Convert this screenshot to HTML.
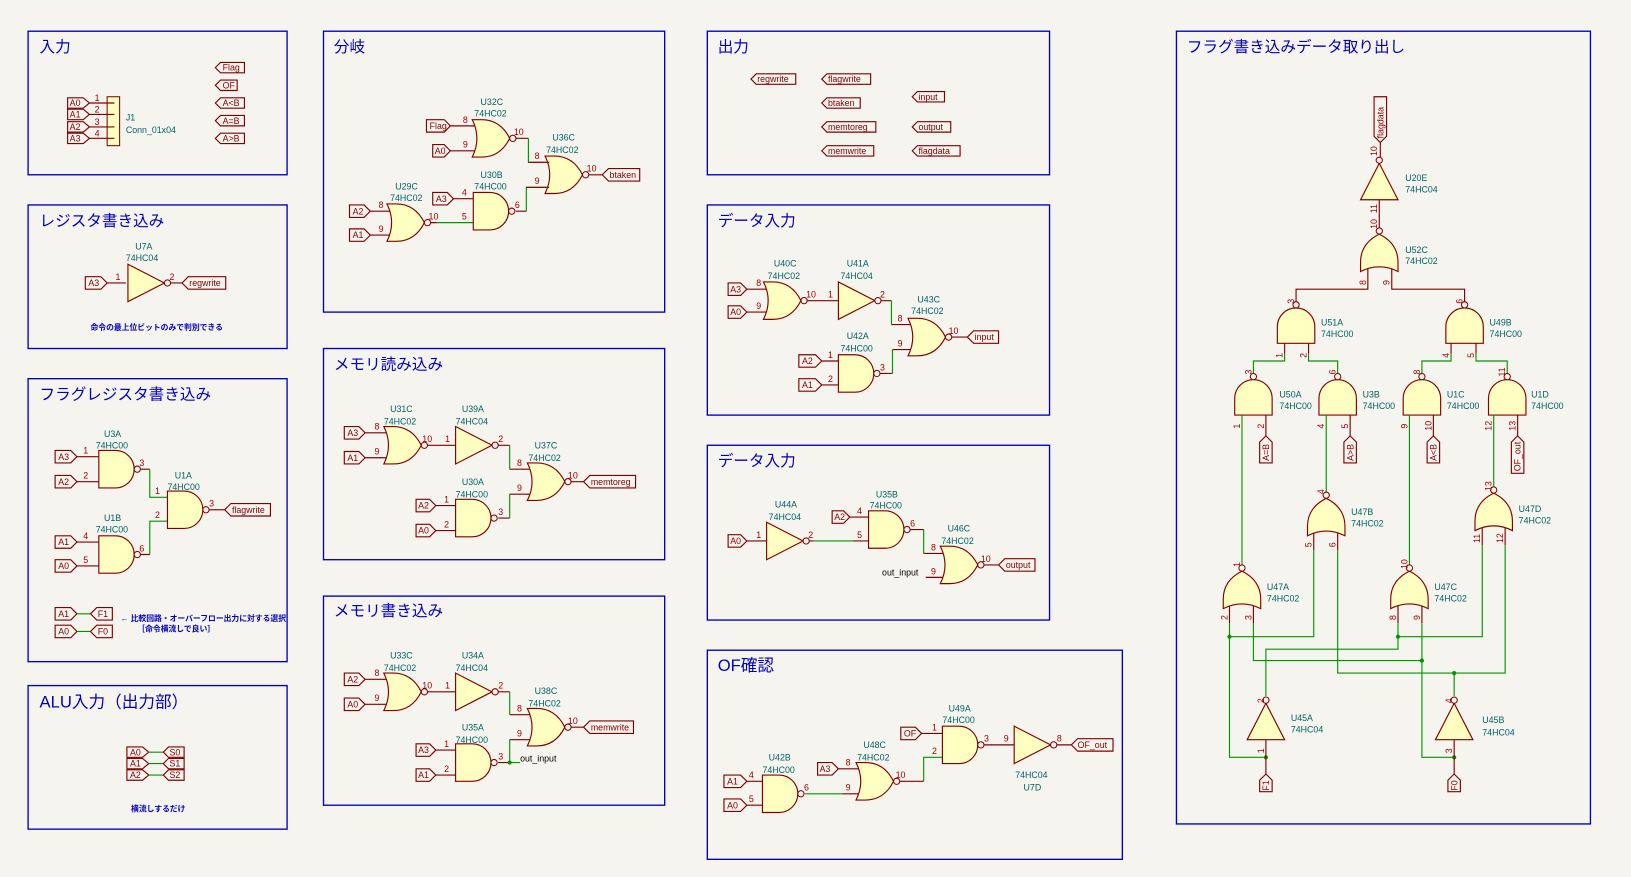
<!DOCTYPE html>
<html><head><meta charset="utf-8"><style>
html,body{margin:0;padding:0;background:#f5f4ef;}
svg{display:block}
text{font-family:"Liberation Sans","Noto Sans CJK JP",sans-serif;}
.t{fill:#0000c2;font-size:15px}
.r{fill:#006464;font-size:8.5px}
.n{fill:#a00000;font-size:8.5px}
.l{fill:#840000;font-size:8.5px}
.note{fill:#0000c2;font-size:7.5px;font-weight:bold}
.fr{fill:none;stroke:#0000c2;stroke-width:1.3}
.p{stroke:#840000;stroke-width:1.1;fill:none}
.w{stroke:#009600;stroke-width:1.1;fill:none}
.lb{fill:none;stroke:#840000;stroke-width:1.1}
</style></head><body>
<svg width="1631" height="877" viewBox="0 0 1568 843" preserveAspectRatio="none" xmlns="http://www.w3.org/2000/svg">
<defs>
<g id="and"><path d="M0,-18 H16 A18,18 0 0 1 16,18 H0 Z" fill="#ffffc2" stroke="#840000" stroke-width="1.1"/><circle cx="37" cy="0" r="3" fill="#f5f4ef" stroke="#840000" stroke-width="1"/></g>
<g id="nor"><path d="M-1,-18 H8 Q26,-18 35,0 Q26,18 8,18 H-1 Q8,0 -1,-18 Z" fill="#ffffc2" stroke="#840000" stroke-width="1.1"/><circle cx="38" cy="0" r="3" fill="#f5f4ef" stroke="#840000" stroke-width="1"/></g>
<g id="inv"><path d="M0,-18 L35,0 L0,18 Z" fill="#ffffc2" stroke="#840000" stroke-width="1.1"/><circle cx="38" cy="0" r="3" fill="#f5f4ef" stroke="#840000" stroke-width="1"/></g>
</defs>
<rect width="1568" height="843" fill="#f5f4ef"/>

<!-- Block 1 入力 -->
<rect class="fr" x="27" y="30" width="249" height="138"/>
<text class="t" x="38" y="50">入力</text>
<rect x="103" y="93" width="12" height="47" fill="#ffffc2" stroke="#840000"/>
<path class="p" d="M86,99H110M86,110H110M86,122H110M86,133H110"/>
<text class="n" x="91" y="97">1</text><text class="n" x="91" y="108">2</text><text class="n" x="91" y="120">3</text><text class="n" x="91" y="131">4</text>
<polygon class="lb" points="65,94 80,94 86,99 80,104 65,104"/><text class="l" x="67" y="102">A0</text>
<polygon class="lb" points="65,105 80,105 86,110 80,115 65,115"/><text class="l" x="67" y="113">A1</text>
<polygon class="lb" points="65,117 80,117 86,122 80,127 65,127"/><text class="l" x="67" y="125">A2</text>
<polygon class="lb" points="65,128 80,128 86,133 80,138 65,138"/><text class="l" x="67" y="136">A3</text>
<text class="r" x="121" y="116">J1</text><text class="r" x="121" y="128">Conn_01x04</text>
<polygon class="lb" points="207,65 212,60 235,60 235,70 212,70"/><text class="l" x="214" y="68">Flag</text>
<polygon class="lb" points="207,82 212,77 228,77 228,87 212,87"/><text class="l" x="214" y="85">OF</text>
<polygon class="lb" points="207,99 212,94 235,94 235,104 212,104"/><text class="l" x="214" y="102">A&lt;B</text>
<polygon class="lb" points="207,116 212,111 235,111 235,121 212,121"/><text class="l" x="214" y="119">A=B</text>
<polygon class="lb" points="207,133 212,128 235,128 235,138 212,138"/><text class="l" x="214" y="136">A&gt;B</text>

<!-- Block 2 レジスタ書き込み -->
<rect class="fr" x="27" y="197" width="249" height="138"/>
<text class="t" x="38" y="217">レジスタ書き込み</text>
<text class="r" x="130" y="240">U7A</text><text class="r" x="121" y="251">74HC04</text>
<polygon class="lb" points="82,266 97,266 103,272 97,278 82,278"/><text class="l" x="85" y="275">A3</text>
<path class="p" d="M103,272H121M163,272H175"/>
<use href="#inv" x="123" y="272"/>
<text class="n" x="111" y="269">1</text><text class="n" x="163" y="269">2</text>
<polygon class="lb" points="175,272 181,266 217,266 217,278 181,278"/><text class="l" x="182" y="275">regwrite</text>
<text class="note" x="87" y="317">命令の最上位ビットのみで判別できる</text>

<!-- Block 3 フラグレジスタ書き込み -->
<rect class="fr" x="27" y="364" width="249" height="272"/>
<text class="t" x="38" y="384">フラグレジスタ書き込み</text>
<text class="r" x="100" y="420">U3A</text><text class="r" x="92" y="431">74HC00</text>
<polygon class="lb" points="53,433 68,433 74,439 68,445 53,445"/><text class="l" x="56" y="442">A3</text>
<polygon class="lb" points="53,457 68,457 74,463 68,469 53,469"/><text class="l" x="56" y="466">A2</text>
<path class="p" d="M74,439H95M74,463H95M135,451H144"/>
<use href="#and" x="95" y="451"/>
<text class="n" x="80" y="436">1</text><text class="n" x="80" y="460">2</text><text class="n" x="134" y="448">3</text>
<path class="w" d="M144,451V478H161M144,533V501H161"/>
<text class="r" x="168" y="460">U1A</text><text class="r" x="161" y="471">74HC00</text>
<use href="#and" x="161" y="490"/>
<text class="n" x="149" y="475">1</text><text class="n" x="149" y="498">2</text><text class="n" x="201" y="487">3</text>
<path class="p" d="M201,490H216"/>
<polygon class="lb" points="216,490 222,484 260,484 260,496 222,496"/><text class="l" x="223" y="493">flagwrite</text>
<text class="r" x="100" y="501">U1B</text><text class="r" x="92" y="512">74HC00</text>
<polygon class="lb" points="53,515 68,515 74,521 68,527 53,527"/><text class="l" x="56" y="524">A1</text>
<polygon class="lb" points="53,538 68,538 74,544 68,550 53,550"/><text class="l" x="56" y="547">A0</text>
<path class="p" d="M74,521H95M74,544H95M135,533H144"/>
<use href="#and" x="95" y="533"/>
<text class="n" x="80" y="518">4</text><text class="n" x="80" y="541">5</text><text class="n" x="134" y="530">6</text>
<polygon class="lb" points="53,584 68,584 74,590 68,596 53,596"/><text class="l" x="56" y="593">A1</text>
<polygon class="lb" points="53,601 68,601 74,607 68,613 53,613"/><text class="l" x="56" y="610">A0</text>
<path class="w" d="M74,590H87M74,607H87"/>
<polygon class="lb" points="87,590 93,584 108,584 108,596 93,596"/><text class="l" x="94" y="593">F1</text>
<polygon class="lb" points="87,607 93,601 108,601 108,613 93,613"/><text class="l" x="94" y="610">F0</text>
<text class="note" x="116" y="597">← 比較回路・オーバーフロー出力に対する選択</text>
<text class="note" x="132" y="607">［命令横流しで良い］</text>

<!-- Block 4 ALU入力 -->
<rect class="fr" x="27" y="659" width="249" height="138"/>
<text class="t" x="38" y="680" style="font-size:16px">ALU入力（出力部）</text>
<polygon class="lb" points="122,718 137,718 143,723 137,728 122,728"/><text class="l" x="125" y="726">A0</text>
<polygon class="lb" points="122,729 137,729 143,734 137,739 122,739"/><text class="l" x="125" y="737">A1</text>
<polygon class="lb" points="122,740 137,740 143,745 137,750 122,750"/><text class="l" x="125" y="748">A2</text>
<path class="w" d="M143,723H157M143,734H157M143,745H157"/>
<polygon class="lb" points="157,723 162,718 177,718 177,728 162,728"/><text class="l" x="163" y="726">S0</text>
<polygon class="lb" points="157,734 162,729 177,729 177,739 162,739"/><text class="l" x="163" y="737">S1</text>
<polygon class="lb" points="157,745 162,740 177,740 177,750 162,750"/><text class="l" x="163" y="748">S2</text>
<text class="note" x="126" y="780">横流しするだけ</text>

<!-- Block 5 分岐 -->
<rect class="fr" x="311" y="30" width="328" height="270"/>
<text class="t" x="321" y="50">分岐</text>
<text class="r" x="462" y="101">U32C</text><text class="r" x="456" y="112">74HC02</text>
<polygon class="lb" points="410,115 427,115 433,121 427,127 410,127"/><text class="l" x="413" y="124">Flag</text>
<polygon class="lb" points="416,139 427,139 433,145 427,151 416,151"/><text class="l" x="418" y="148">A0</text>
<path class="p" d="M433,121H458M433,145H458M496,133H508"/>
<use href="#nor" x="455" y="133"/>
<text class="n" x="445" y="118">8</text><text class="n" x="445" y="142">9</text><text class="n" x="494" y="130">10</text>
<path class="w" d="M508,133V156H525M506,203V180H525M420,214H455"/>
<text class="r" x="531" y="135">U36C</text><text class="r" x="525" y="147">74HC02</text>
<use href="#nor" x="525" y="168"/>
<path class="p" d="M508,156H528M506,180H528M566,168H579"/>
<text class="n" x="514" y="153">8</text><text class="n" x="514" y="177">9</text><text class="n" x="564" y="165">10</text>
<polygon class="lb" points="579,168 585,162 615,162 615,174 585,174"/><text class="l" x="586" y="171">btaken</text>
<text class="r" x="380" y="182">U29C</text><text class="r" x="375" y="193">74HC02</text>
<polygon class="lb" points="336,197 350,197 356,203 350,209 336,209"/><text class="l" x="339" y="206">A2</text>
<polygon class="lb" points="336,220 350,220 356,226 350,232 336,232"/><text class="l" x="339" y="229">A1</text>
<path class="p" d="M356,203H376M356,226H376M414,214H420"/>
<use href="#nor" x="373" y="214"/>
<text class="n" x="364" y="200">8</text><text class="n" x="364" y="223">9</text><text class="n" x="412" y="211">10</text>
<text class="r" x="462" y="171">U30B</text><text class="r" x="456" y="182">74HC00</text>
<polygon class="lb" points="416,185 430,185 436,191 430,197 416,197"/><text class="l" x="419" y="194">A3</text>
<path class="p" d="M436,191H455M496,203H506"/>
<use href="#and" x="455" y="203"/>
<text class="n" x="444" y="188">4</text><text class="n" x="444" y="211">5</text><text class="n" x="495" y="200">6</text>

<!-- Block 6 メモリ読み込み -->
<rect class="fr" x="311" y="335" width="328" height="203"/>
<text class="t" x="321" y="355">メモリ読み込み</text>
<text class="r" x="375" y="396">U31C</text><text class="r" x="369" y="408">74HC02</text>
<polygon class="lb" points="331,410 345,410 351,416 345,422 331,422"/><text class="l" x="334" y="419">A3</text>
<polygon class="lb" points="331,434 345,434 351,440 345,446 331,446"/><text class="l" x="334" y="443">A1</text>
<path class="p" d="M351,416H373M351,440H373M409,428H438"/>
<use href="#nor" x="370" y="428"/>
<text class="n" x="360" y="413">8</text><text class="n" x="360" y="437">9</text><text class="n" x="406" y="425">10</text><text class="n" x="428" y="425">1</text>
<text class="r" x="444" y="396">U39A</text><text class="r" x="438" y="408">74HC04</text>
<use href="#inv" x="438" y="428"/>
<path class="p" d="M479,428H490M490,451H511M490,475H511M546,463H561M479,498H490"/>
<text class="n" x="479" y="425">2</text>
<path class="w" d="M490,428V451M490,498V475"/>
<text class="r" x="514" y="431">U37C</text><text class="r" x="508" y="443">74HC02</text>
<use href="#nor" x="508" y="463"/>
<text class="n" x="497" y="448">8</text><text class="n" x="497" y="472">9</text><text class="n" x="546" y="460">10</text>
<polygon class="lb" points="561,463 567,457 611,457 611,469 567,469"/><text class="l" x="568" y="466">memtoreg</text>
<text class="r" x="444" y="466">U30A</text><text class="r" x="438" y="478">74HC00</text>
<polygon class="lb" points="400,480 413,480 419,486 413,492 400,492"/><text class="l" x="402" y="489">A2</text>
<polygon class="lb" points="400,504 413,504 419,510 413,516 400,516"/><text class="l" x="402" y="513">A0</text>
<path class="p" d="M419,486H438M419,510H438"/>
<use href="#and" x="438" y="498"/>
<text class="n" x="427" y="483">1</text><text class="n" x="427" y="507">2</text><text class="n" x="479" y="495">3</text>

<!-- Block 7 メモリ書き込み -->
<rect class="fr" x="311" y="573" width="328" height="201"/>
<text class="t" x="321" y="592">メモリ書き込み</text>
<text class="r" x="375" y="633">U33C</text><text class="r" x="369" y="645">74HC02</text>
<polygon class="lb" points="331,647 345,647 351,653 345,659 331,659"/><text class="l" x="334" y="656">A2</text>
<polygon class="lb" points="331,671 345,671 351,677 345,683 331,683"/><text class="l" x="334" y="680">A0</text>
<path class="p" d="M351,653H373M351,677H373M409,665H438"/>
<use href="#nor" x="370" y="665"/>
<text class="n" x="360" y="650">8</text><text class="n" x="360" y="674">9</text><text class="n" x="406" y="662">10</text><text class="n" x="428" y="662">1</text>
<text class="r" x="444" y="633">U34A</text><text class="r" x="438" y="645">74HC04</text>
<use href="#inv" x="438" y="665"/>
<path class="p" d="M479,665H490M490,687H511M490,711H511M546,699H561M479,733H490"/>
<text class="n" x="479" y="662">2</text>
<path class="w" d="M490,665V687M490,733V711M490,733H500"/>
<circle cx="490" cy="733" r="2" fill="#009600"/>
<text class="r" x="514" y="667">U38C</text><text class="r" x="508" y="679">74HC02</text>
<use href="#nor" x="508" y="699"/>
<text class="n" x="497" y="684">8</text><text class="n" x="497" y="708">9</text><text class="n" x="546" y="696">10</text>
<polygon class="lb" points="561,699 567,693 609,693 609,705 567,705"/><text class="l" x="568" y="702">memwrite</text>
<text class="r" x="444" y="702">U35A</text><text class="r" x="438" y="714">74HC00</text>
<polygon class="lb" points="400,715 413,715 419,721 413,727 400,727"/><text class="l" x="402" y="724">A3</text>
<polygon class="lb" points="400,739 413,739 419,745 413,751 400,751"/><text class="l" x="402" y="748">A1</text>
<path class="p" d="M419,721H438M419,745H438"/>
<use href="#and" x="438" y="733"/>
<text class="n" x="427" y="718">1</text><text class="n" x="427" y="742">2</text><text class="n" x="479" y="730">3</text>
<text x="500" y="732" style="font-size:8.5px;fill:#000">out_input</text>

<!-- Block 8 出力 -->
<rect class="fr" x="680" y="30" width="329" height="138"/>
<text class="t" x="690" y="50">出力</text>
<g>
<polygon class="lb" points="722,76 727,71 765,71 765,81 727,81"/><text class="l" x="728" y="79">regwrite</text>
<polygon class="lb" points="790,76 795,71 837,71 837,81 795,81"/><text class="l" x="796" y="79">flagwrite</text>
<polygon class="lb" points="790,99 795,94 827,94 827,104 795,104"/><text class="l" x="796" y="102">btaken</text>
<polygon class="lb" points="790,122 795,117 842,117 842,127 795,127"/><text class="l" x="796" y="125">memtoreg</text>
<polygon class="lb" points="790,145 795,140 840,140 840,150 795,150"/><text class="l" x="796" y="148">memwrite</text>
<polygon class="lb" points="877,93 882,88 908,88 908,98 882,98"/><text class="l" x="883" y="96">input</text>
<polygon class="lb" points="877,122 882,117 914,117 914,127 882,127"/><text class="l" x="883" y="125">output</text>
<polygon class="lb" points="877,145 882,140 923,140 923,150 882,150"/><text class="l" x="883" y="148">flagdata</text>
</g>

<!-- Block 9 データ入力 -->
<rect class="fr" x="680" y="197" width="329" height="202"/>
<text class="t" x="690" y="217">データ入力</text>
<text class="r" x="744" y="256">U40C</text><text class="r" x="738" y="268">74HC02</text>
<polygon class="lb" points="700,272 712,272 718,278 712,284 700,284"/><text class="l" x="702" y="281">A3</text>
<polygon class="lb" points="700,294 712,294 718,300 712,306 700,306"/><text class="l" x="702" y="303">A0</text>
<path class="p" d="M718,278H738M718,300H738M776,289H806"/>
<use href="#nor" x="735" y="289"/>
<text class="n" x="727" y="275">8</text><text class="n" x="727" y="297">9</text><text class="n" x="775" y="286">10</text><text class="n" x="796" y="286">1</text>
<text class="r" x="814" y="256">U41A</text><text class="r" x="808" y="268">74HC04</text>
<use href="#inv" x="806" y="289"/>
<path class="p" d="M847,289H857M857,312H877M858,336H877M913,324H930M846,359H858"/>
<path class="w" d="M857,289V312M858,359V336"/>
<text class="n" x="846" y="286">2</text>
<text class="r" x="882" y="291">U43C</text><text class="r" x="876" y="302">74HC02</text>
<use href="#nor" x="874" y="324"/>
<text class="n" x="863" y="309">8</text><text class="n" x="863" y="333">9</text><text class="n" x="912" y="321">10</text>
<polygon class="lb" points="930,324 936,318 960,318 960,330 936,330"/><text class="l" x="937" y="327">input</text>
<text class="r" x="814" y="326">U42A</text><text class="r" x="808" y="338">74HC00</text>
<polygon class="lb" points="768,341 784,341 790,347 784,353 768,353"/><text class="l" x="771" y="350">A2</text>
<polygon class="lb" points="768,364 784,364 790,370 784,376 768,376"/><text class="l" x="771" y="373">A1</text>
<path class="p" d="M790,347H806M790,370H806"/>
<use href="#and" x="806" y="359"/>
<text class="n" x="796" y="344">1</text><text class="n" x="796" y="367">2</text><text class="n" x="846" y="356">3</text>

<!-- Block 10 データ入力 -->
<rect class="fr" x="680" y="428" width="329" height="168"/>
<text class="t" x="690" y="448">データ入力</text>
<text class="r" x="745" y="488">U44A</text><text class="r" x="739" y="500">74HC04</text>
<polygon class="lb" points="700,514 712,514 718,520 712,526 700,526"/><text class="l" x="702" y="523">A0</text>
<path class="p" d="M718,520H737M776,520H782M820,520H835"/>
<use href="#inv" x="737" y="520"/>
<text class="n" x="727" y="517">1</text><text class="n" x="777" y="517">2</text>
<path class="w" d="M782,520H820M888,509V532"/>
<text class="r" x="842" y="478">U35B</text><text class="r" x="836" y="489">74HC00</text>
<polygon class="lb" points="800,491 811,491 817,497 811,503 800,503"/><text class="l" x="802" y="500">A2</text>
<path class="p" d="M817,497H835M873,509H888M888,532H908M890,555H908M944,543H960"/>
<use href="#and" x="835" y="509"/>
<text class="n" x="824" y="494">4</text><text class="n" x="824" y="517">5</text><text class="n" x="875" y="506">6</text>
<text class="r" x="911" y="511">U46C</text><text class="r" x="905" y="523">74HC02</text>
<use href="#nor" x="905" y="543"/>
<text class="n" x="895" y="529">8</text><text class="n" x="895" y="552">9</text><text class="n" x="943" y="540">10</text>
<text x="848" y="553" style="font-size:8.5px;fill:#000">out_input</text>
<polygon class="lb" points="960,543 966,537 995,537 995,549 966,549"/><text class="l" x="967" y="546">output</text>

<!-- Block 11 OF確認 -->
<rect class="fr" x="680" y="625" width="399" height="201"/>
<text class="t" x="690" y="645" style="font-size:16px">OF確認</text>
<text class="r" x="739" y="731">U42B</text><text class="r" x="733" y="743">74HC00</text>
<polygon class="lb" points="696,745 712,745 718,751 712,757 696,757"/><text class="l" x="699" y="754">A1</text>
<polygon class="lb" points="696,768 712,768 718,774 712,780 696,780"/><text class="l" x="699" y="777">A0</text>
<path class="p" d="M718,751H733M718,774H733M810,763H827M806,739H827"/>
<use href="#and" x="733" y="763"/>
<text class="n" x="720" y="748">4</text><text class="n" x="720" y="771">5</text><text class="n" x="773" y="760">6</text>
<path class="w" d="M774,763H810M888,751V728H906"/>
<text class="r" x="830" y="719">U48C</text><text class="r" x="824" y="731">74HC02</text>
<polygon class="lb" points="786,733 800,733 806,739 800,745 786,745"/><text class="l" x="788" y="742">A3</text>
<use href="#nor" x="824" y="751"/>
<text class="n" x="813" y="736">8</text><text class="n" x="813" y="760">9</text><text class="n" x="861" y="748">10</text>
<path class="p" d="M865,751H888"/>
<text class="r" x="912" y="684">U49A</text><text class="r" x="906" y="695">74HC00</text>
<polygon class="lb" points="866,699 880,699 886,705 880,711 866,711"/><text class="l" x="869" y="708">OF</text>
<path class="p" d="M886,705H906M944,716H975M1015,716H1030"/>
<use href="#and" x="906" y="716"/>
<text class="n" x="896" y="702">1</text><text class="n" x="896" y="725">2</text><text class="n" x="946" y="713">3</text><text class="n" x="965" y="713">9</text>
<use href="#inv" x="975" y="716"/>
<text class="n" x="1016" y="713">8</text>
<text class="r" x="976" y="748">74HC04</text><text class="r" x="984" y="760">U7D</text>
<polygon class="lb" points="1030,716 1036,710 1070,710 1070,722 1036,722"/><text class="l" x="1036" y="719">OF_out</text>

<!-- Block 12 フラグ書き込みデータ取り出し -->
<rect class="fr" x="1131" y="30" width="398" height="762"/>
<text class="t" x="1141" y="50">フラグ書き込みデータ取り出し</text>
<polygon class="lb" points="1321,93 1333,93 1333,131 1327,137 1321,131"/>
<text class="l" transform="translate(1330,133) rotate(-90)">flagdata</text>
<path class="p" d="M1327,137V151M1326,192V219"/>
<use href="#inv" transform="translate(1326,192) rotate(-90)"/>
<text class="r" x="1351" y="174">U20E</text><text class="r" x="1351" y="185">74HC04</text>
<use href="#nor" transform="translate(1326,260) rotate(-90)"/>
<text class="r" x="1351" y="243">U52C</text><text class="r" x="1351" y="254">74HC02</text>
<text class="n" transform="translate(1324,150) rotate(-90)">10</text>
<text class="n" transform="translate(1324,205) rotate(-90)">11</text>
<text class="n" transform="translate(1324,220) rotate(-90)">10</text>
<text class="n" transform="translate(1313,274) rotate(-90)">8</text>
<text class="n" transform="translate(1336,274) rotate(-90)">9</text>
<path class="p" d="M1315,258V278H1246V290M1338,258V278H1408V290"/>
<use href="#and" transform="translate(1246,330) rotate(-90)"/>
<use href="#and" transform="translate(1408,330) rotate(-90)"/>
<text class="r" x="1270" y="313">U51A</text><text class="r" x="1270" y="324">74HC00</text>
<text class="r" x="1432" y="313">U49B</text><text class="r" x="1432" y="324">74HC00</text>
<text class="n" transform="translate(1244,292) rotate(-90)">3</text>
<text class="n" transform="translate(1406,292) rotate(-90)">6</text>
<path class="p" d="M1235,330V340M1258,330V340M1395,330V340M1419,330V340"/>
<path class="w" d="M1235,340V347H1205V359M1258,340V347H1286V359M1395,340V347H1367V359M1419,340V347H1449V359"/>
<text class="n" transform="translate(1233,344) rotate(-90)">1</text><text class="n" transform="translate(1256,344) rotate(-90)">2</text>
<text class="n" transform="translate(1393,344) rotate(-90)">4</text><text class="n" transform="translate(1417,344) rotate(-90)">5</text>
<use href="#and" transform="translate(1205,399) rotate(-90)"/>
<use href="#and" transform="translate(1286,399) rotate(-90)"/>
<use href="#and" transform="translate(1367,399) rotate(-90)"/>
<use href="#and" transform="translate(1449,399) rotate(-90)"/>
<text class="r" x="1230" y="382">U50A</text><text class="r" x="1230" y="393">74HC00</text>
<text class="r" x="1310" y="382">U3B</text><text class="r" x="1310" y="393">74HC00</text>
<text class="r" x="1391" y="382">U1C</text><text class="r" x="1391" y="393">74HC00</text>
<text class="r" x="1472" y="382">U1D</text><text class="r" x="1472" y="393">74HC00</text>
<text class="n" transform="translate(1203,360) rotate(-90)">3</text><text class="n" transform="translate(1284,360) rotate(-90)">6</text>
<text class="n" transform="translate(1365,360) rotate(-90)">8</text><text class="n" transform="translate(1447,362) rotate(-90)">11</text>
<path class="p" d="M1217,399V419M1298,399V419M1378,399V419M1459,399V419"/>
<text class="n" transform="translate(1192,412) rotate(-90)">1</text><text class="n" transform="translate(1215,412) rotate(-90)">2</text>
<text class="n" transform="translate(1273,412) rotate(-90)">4</text><text class="n" transform="translate(1296,412) rotate(-90)">5</text>
<text class="n" transform="translate(1353,412) rotate(-90)">9</text><text class="n" transform="translate(1376,414) rotate(-90)">10</text>
<text class="n" transform="translate(1434,414) rotate(-90)">12</text><text class="n" transform="translate(1457,414) rotate(-90)">13</text>
<polygon class="lb" points="1211,445 1211,425 1217,419 1223,425 1223,445"/><text class="l" transform="translate(1220,443) rotate(-90)">A=B</text>
<polygon class="lb" points="1292,445 1292,425 1298,419 1304,425 1304,445"/><text class="l" transform="translate(1301,443) rotate(-90)">A&gt;B</text>
<polygon class="lb" points="1372,445 1372,425 1378,419 1384,425 1384,445"/><text class="l" transform="translate(1381,443) rotate(-90)">A&lt;B</text>
<polygon class="lb" points="1453,455 1453,425 1459,419 1465,425 1465,455"/><text class="l" transform="translate(1462,453) rotate(-90)">OF_out</text>
<path class="w" d="M1194,399V543M1275,399V474M1355,399V543M1436,399V468"/>
<use href="#nor" transform="translate(1194,584) rotate(-90)"/>
<use href="#nor" transform="translate(1275,514) rotate(-90)"/>
<use href="#nor" transform="translate(1355,584) rotate(-90)"/>
<use href="#nor" transform="translate(1436,509) rotate(-90)"/>
<text class="r" x="1218" y="567">U47A</text><text class="r" x="1218" y="578">74HC02</text>
<text class="r" x="1299" y="495">U47B</text><text class="r" x="1299" y="506">74HC02</text>
<text class="r" x="1379" y="567">U47C</text><text class="r" x="1379" y="578">74HC02</text>
<text class="r" x="1460" y="492">U47D</text><text class="r" x="1460" y="503">74HC02</text>
<text class="n" transform="translate(1192,545) rotate(-90)">1</text><text class="n" transform="translate(1273,475) rotate(-90)">4</text>
<text class="n" transform="translate(1353,547) rotate(-90)">10</text><text class="n" transform="translate(1434,472) rotate(-90)">13</text>
<path class="p" d="M1182,582V599M1205,582V599M1263,512V529M1286,512V529M1344,582V599M1367,582V599M1425,507V524M1447,507V524"/>
<text class="n" transform="translate(1180,596) rotate(-90)">2</text><text class="n" transform="translate(1203,596) rotate(-90)">3</text>
<text class="n" transform="translate(1261,526) rotate(-90)">5</text><text class="n" transform="translate(1284,526) rotate(-90)">6</text>
<text class="n" transform="translate(1342,596) rotate(-90)">8</text><text class="n" transform="translate(1365,596) rotate(-90)">9</text>
<text class="n" transform="translate(1423,522) rotate(-90)">11</text><text class="n" transform="translate(1445,522) rotate(-90)">12</text>
<path class="w" d="M1182,599V728H1217M1263,529V612H1182M1344,599V624H1217V669M1344,612H1425V524M1205,599V635H1367M1367,599V728H1398M1286,529V647H1447V524M1398,647V669"/>
<g fill="#009600"><circle cx="1182" cy="612" r="2"/><circle cx="1344" cy="612" r="2"/><circle cx="1367" cy="635" r="2"/><circle cx="1398" cy="647" r="2"/><circle cx="1217" cy="728" r="2"/><circle cx="1398" cy="728" r="2"/></g>
<use href="#inv" transform="translate(1217,711) rotate(-90)"/>
<use href="#inv" transform="translate(1398,711) rotate(-90)"/>
<text class="r" x="1241" y="693">U45A</text><text class="r" x="1241" y="704">74HC04</text>
<text class="r" x="1425" y="695">U45B</text><text class="r" x="1425" y="707">74HC04</text>
<text class="n" transform="translate(1215,676) rotate(-90)">2</text><text class="n" transform="translate(1396,676) rotate(-90)">4</text>
<text class="n" transform="translate(1215,724) rotate(-90)">1</text><text class="n" transform="translate(1396,724) rotate(-90)">3</text>
<path class="p" d="M1217,711V744M1398,711V744"/>
<polygon class="lb" points="1211,761 1211,750 1217,744 1223,750 1223,761"/><text class="l" transform="translate(1220,760) rotate(-90)">F1</text>
<polygon class="lb" points="1392,761 1392,750 1398,744 1404,750 1404,761"/><text class="l" transform="translate(1401,760) rotate(-90)">F0</text>
</svg>
</body></html>
